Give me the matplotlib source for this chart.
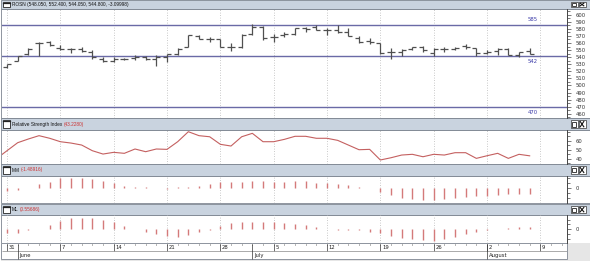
import numpy as np
import pandas as pd
import matplotlib
matplotlib.use("Agg")
import matplotlib.pyplot as plt
from matplotlib.patches import Rectangle
from matplotlib.ticker import FixedLocator, MultipleLocator

# figure size in pixels
W, H = 590, 261

# trading days shown as bars, and the days drawn on the date axis
dates = pd.bdate_range("2010-05-31", "2010-08-06")
axis_days = pd.bdate_range("2010-05-31", "2010-08-11")

# ROSN daily prices
opens = [526, 535, 544, 560, 562, 553, 551, 552, 548, 537,
         534, 538, 539, 540, 537, 540, 544, 555, 570, 566,
         566, 555, 554, 573, 583, 568, 572, 573, 581, 583,
         578, 579, 576, 567, 563, 560, 547, 548, 551, 555,
         546, 551, 552, 556, 553, 546, 549, 552, 543, 548.05]
highs = [531, 542, 553, 561, 563, 557, 553, 554, 550, 540,
         540, 539, 543, 541, 543, 544, 553, 572, 571, 568,
         566, 560, 573, 587, 584, 573, 576, 581, 583, 586,
         581, 586, 581, 570, 567, 560, 553, 552, 555, 556,
         553, 555, 554, 558, 553, 550, 553, 553, 548, 552.4]
lows = [524, 534, 543, 541, 556, 550, 546, 547, 537, 533,
        533, 536, 536, 536, 527, 533, 543, 554, 565, 562,
        555, 549, 553, 572, 564, 562, 569, 572, 576, 578,
        572, 574, 570, 560, 559, 545, 538, 541, 550, 548,
        541, 548, 550, 551, 541, 544, 543, 543, 540, 544.05]
closes = [531, 541, 552, 560, 557, 551, 551, 549, 540, 534,
          538, 537, 540, 537, 540, 544, 552, 571, 566, 566,
          555, 554, 572, 583, 567, 568, 573, 581, 580, 578,
          579, 576, 570, 562, 562, 546, 548, 550, 554, 550,
          552, 551, 553, 554, 546, 548, 552, 543, 547.9, 544.8]
levels = [585, 542, 470]
level_side = [1, -1, -1]

# indicators
rsi_prev = 40.0
rsi = [48.9, 57.8, 61.9, 65.6, 62.7, 58.9, 57.4, 55.2, 48.9, 45.2,
       47.1, 46.0, 50.8, 47.8, 50.8, 50.4, 58.9, 70.0, 65.6, 64.4,
       56.0, 54.1, 64.4, 68.2, 58.9, 58.9, 61.5, 64.9, 64.9, 62.7,
       62.7, 60.4, 55.2, 50.0, 50.4, 38.6, 41.1, 44.1, 44.9, 42.2,
       44.9, 44.1, 46.7, 46.7, 40.4, 43.3, 46.0, 40.4, 44.9, 43.228]
mm = [-0.6, -0.3, 0.2, 1.0, 1.65, 2.5, 2.65, 2.65, 2.3, 1.8,
      1.25, 0.65, 0.35, 0.25, 0.2, -0.2, 0.25, 0.3, 0.65, 1.15,
      1.65, 1.65, 1.65, 1.8, 1.8, 1.65, 1.65, 1.8, 1.8, 1.4,
      1.25, 1.05, 0.8, 0.4, 0.2, -0.8, -1.65, -2.3, -2.65, -2.9,
      -2.9, -2.65, -2.3, -2.05, -1.9, -1.8, -1.65, -1.5, -1.5, -1.48916]
ml = [-0.8, -0.7, -0.25, 0.15, 0.9, 1.75, 2.3, 2.45, 2.45, 1.95,
      1.45, 0.7, 0.1, -0.6, -0.95, -1.3, -1.55, -1.2, -0.6, -0.1,
      0.7, 1.25, 1.45, 1.6, 1.6, 1.45, 1.25, 1.2, 0.9, 0.55,
      0.05, -0.05, -0.15, -0.25, -0.5, -0.85, -1.3, -1.75, -2.0, -2.2,
      -2.35, -2.0, -1.55, -1.05, -0.5, -0.2, 0.1, 0.2, 0.4, 0.55686]

HEAD = "#c9d3df"
EDGE = "#7d8590"
BAR = "#505050"
RED = "#cc3333"
IND = "#d47a7a"
LVL = "#6a6aa6"
XMIN, XMAX = -0.47, 52.5
FS_HEAD = 3.4
FS_TICK = 3.8

fig = plt.figure(figsize=(W / 100, H / 100), dpi=100)
fig.patch.set_facecolor("white")

# overlay in pixel coordinates for headers, frames and buttons
ov = fig.add_axes([0, 0, 1, 1])
ov.set_xlim(0, W)
ov.set_ylim(H, 0)
ov.axis("off")


def add_ax(x0, y0, x1, y1):
    return fig.add_axes([x0 / W, 1 - y1 / H, (x1 - x0) / W, (y1 - y0) / H])


def header(top, bottom, name, value):
    ov.add_patch(Rectangle((0.5, top), 589, bottom - top, facecolor=HEAD,
                           edgecolor=EDGE, lw=0.6))
    # window icon
    ov.add_patch(Rectangle((2.5, top + 2), 7.5, bottom - top - 4,
                           facecolor="white", edgecolor="#222", lw=0.6))
    ov.plot([2.5, 10], [top + 2.6, top + 2.6], color="#222", lw=0.9)
    yc = (top + bottom) / 2
    t = ov.text(11.5, yc, name, fontsize=FS_HEAD, va="center", ha="left",
                color="#111", family="Liberation Sans")
    if value:
        ov.annotate(value, xy=(1, 0), xycoords=t, xytext=(1.2, 0),
                    textcoords="offset points", va="bottom", ha="left",
                    fontsize=FS_HEAD, color=RED, family="Liberation Sans")
    # restore / close buttons
    bt, bb = top + 2, bottom - 2
    ov.add_patch(Rectangle((570.5, bt), 7, bb - bt, facecolor="white",
                           edgecolor="#333", lw=0.5))
    ov.add_patch(Rectangle((572.3, bt + 1.3), 3.4, bb - bt - 2.6,
                           facecolor="none", edgecolor="#222", lw=0.6))
    ov.add_patch(Rectangle((578.5, bt), 7, bb - bt, facecolor="white",
                           edgecolor="#333", lw=0.5))
    ov.plot([580.2, 583.8], [bt + 1.2, bb - 1.2], color="#111", lw=0.8)
    ov.plot([580.2, 583.8], [bb - 1.2, bt + 1.2], color="#111", lw=0.8)


# panel geometry: header top, body top, body bottom
panels = [(0, 9, 117.5), (118.3, 130, 163.5), (164.3, 175.7, 203.3),
          (204.3, 215, 243.3)]
titles = [("ROSN (548.050, 552.400, 544.050, 544.800, -3.09998)", None),
          ("Relative Strength Index", "(43.2280)"),
          ("MM", "(-1.48916)"),
          ("ML", "(0.55686)")]

for (ht, bt, bb), (name, val) in zip(panels, titles):
    ov.add_patch(Rectangle((0.5, bt), 589, bb - bt, facecolor="white",
                           edgecolor=EDGE, lw=0.6))
    header(ht, bt, name, val)

# date axis background
ov.add_patch(Rectangle((0.5, 243.3), 589, 17.5, facecolor="#e6e6e6",
                       edgecolor="none"))
ov.add_patch(Rectangle((0.5, 243.3), 566.5, 15.2, facecolor="white",
                       edgecolor=EDGE, lw=0.6))

x = np.arange(len(closes))
mondays = [i for i, d in enumerate(axis_days) if d.weekday() == 0]


def style(ax, ylim):
    ax.set_xlim(XMIN, XMAX)
    ax.set_ylim(*ylim)
    ax.patch.set_alpha(0)
    for s in ["top", "bottom", "left"]:
        ax.spines[s].set_visible(False)
    ax.spines["right"].set_color("#444")
    ax.spines["right"].set_linewidth(0.7)
    ax.set_xticks([])
    ax.yaxis.tick_right()
    ax.tick_params(axis="y", which="both", direction="out", color="#444",
                   width=0.5, labelsize=FS_TICK, labelcolor="#333", pad=3.5)
    ax.tick_params(axis="y", which="major", length=3)
    ax.tick_params(axis="y", which="minor", length=2)
    ax.vlines(mondays, ylim[0], ylim[1], color="#b8b8b8", lw=0.6,
              linestyles=(0, (1, 2)), zorder=0)


# price panel
ax_p = add_ax(2, 9, 567, 117.5)
style(ax_p, (454.7, 608.1))
ax_p.yaxis.set_major_locator(MultipleLocator(10))
ax_p.yaxis.set_minor_locator(MultipleLocator(5))
for lv, side in zip(levels, level_side):
    ax_p.axhline(lv, color=LVL, lw=1.0, zorder=1)
    ax_p.annotate(str(lv), xy=(49.3, lv), xytext=(0, 4.4 * side),
                  textcoords="offset points", ha="center", va="center",
                  fontsize=FS_TICK, color="#3a3aa8")
ax_p.vlines(x, lows, highs, color=BAR, lw=0.9, zorder=2)
ax_p.hlines(opens, x - 0.38, x, color=BAR, lw=0.9, zorder=2)
ax_p.hlines(closes, x, x + 0.38, color=BAR, lw=0.9, zorder=2)

# RSI panel
ax_r = add_ax(2, 130, 567, 163.5)
style(ax_r, (34.7, 71.9))
ax_r.yaxis.set_major_locator(FixedLocator([40, 50, 60]))
ax_r.yaxis.set_minor_locator(MultipleLocator(5))
ax_r.plot(np.arange(-1, len(rsi)), [rsi_prev] + rsi, color="#c46060", lw=0.8)

# MM panel
ax_m = add_ax(2, 175.7, 567, 203.3)
style(ax_m, (-3.72, 3.13))
ax_m.yaxis.set_major_locator(FixedLocator([0]))
ax_m.yaxis.set_minor_locator(MultipleLocator(1.25))
ax_m.vlines(x, 0, mm, color=IND, lw=1.0)

# ML panel
ax_l = add_ax(2, 215, 567, 243.3)
style(ax_l, (-2.92, 2.98))
ax_l.yaxis.set_major_locator(FixedLocator([0]))
ax_l.yaxis.set_minor_locator(MultipleLocator(1.0))
ax_l.vlines(x, 0, ml, color=IND, lw=1.0)

# date axis, drawn in pixel rows
ax_d = add_ax(2, 243.3, 567, 261)
ax_d.set_xlim(XMIN, XMAX)
ax_d.set_ylim(261, 243.3)
ax_d.axis("off")
days = np.arange(len(axis_days))
ax_d.vlines(days, 243.5, 245.3, color="#333", lw=0.5)
ax_d.vlines(mondays, 243.5, 250.8, color="#333", lw=0.5)
for i in mondays:
    ax_d.text(i + 0.15, 247.3, str(axis_days[i].day), fontsize=FS_TICK,
              va="center", ha="left", color="#222")
ax_d.hlines(250.8, XMIN, XMAX, color="#888", lw=0.5)
month_starts = [i for i in range(1, len(axis_days))
                if axis_days[i].month != axis_days[i - 1].month]
ax_d.vlines(month_starts, 243.5, 258.5, color="#333", lw=0.5)
for i in month_starts:
    ax_d.text(i + 0.15, 255, axis_days[i].strftime("%B"), fontsize=FS_TICK,
              va="center", ha="left", color="#222")

fig.savefig("out.png", dpi=100)
